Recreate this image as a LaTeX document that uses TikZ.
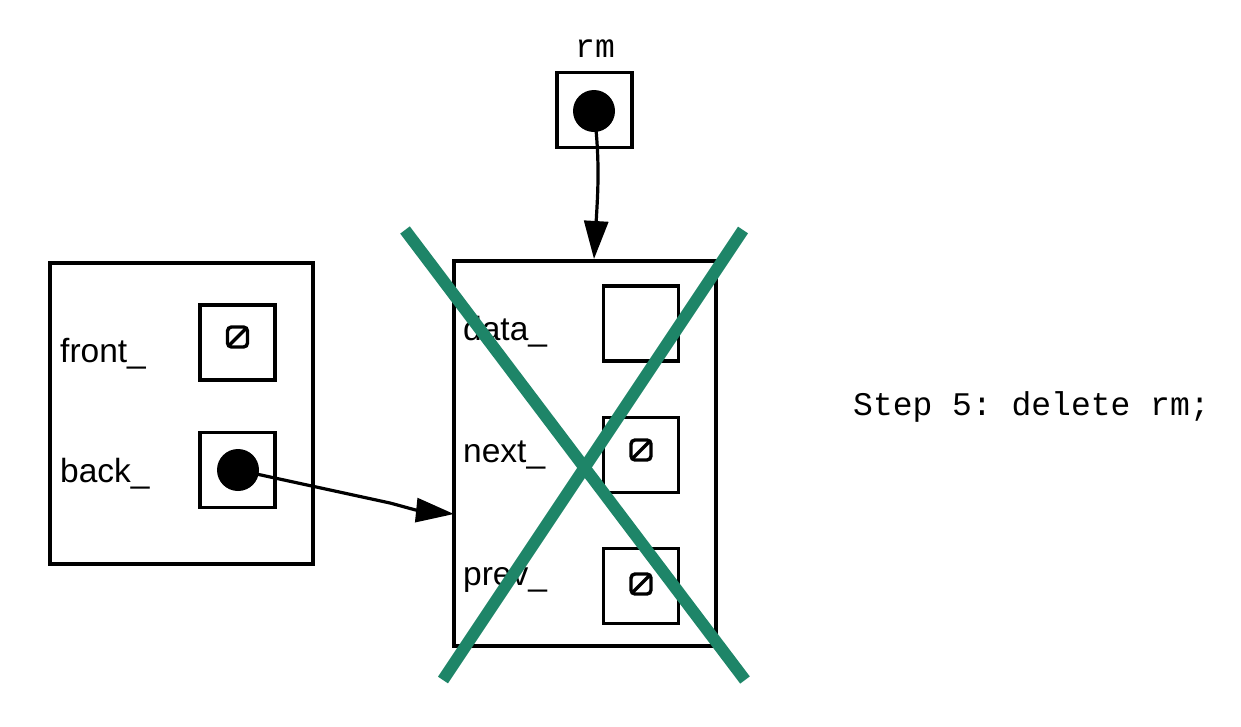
\documentclass[tikz,border=0pt]{standalone}
\usepackage{fontspec}
\setmainfont{Liberation Sans}
\setmonofont{Liberation Mono}
\usetikzlibrary{arrows.meta}
\definecolor{xgreen}{RGB}{30,133,104}
\begin{document}
\begin{tikzpicture}[x=1pt,y=-1pt,
  box/.style={draw,line width=3.2pt,minimum width=75pt,minimum height=75pt,inner sep=0pt},
  frame/.style={draw,line width=3.2pt,inner sep=0pt},
  lbl/.style={anchor=base west,inner sep=0pt,font=\fontsize{33.5}{40}\selectfont},
  code/.style={inner sep=0pt,font=\ttfamily\fontsize{33}{40}\selectfont},
  dot/.style={circle,fill=black,minimum size=42pt,inner sep=0pt},
  nullp/.style={draw,line width=3.4pt,rounded corners=4pt,minimum width=20pt,minimum height=20pt,inner sep=0pt,
    path picture={\draw[line width=3.4pt] (path picture bounding box.south west) -- (path picture bounding box.north east);}},
  ptr/.style={line width=3.2pt,-{Triangle[length=38pt,width=24pt]}},
  cross/.style={line width=12pt,xgreen}]
\useasboundingbox (0,0) rectangle (1241,726);
% left object
\node[frame,minimum width=263pt,minimum height=301pt] (list) at (181.5,413.5) {};
\node[box] (frontbox) at (237.5,342.5) {};
\node[box] (backbox) at (237.5,470) {};
\node[nullp] (frontnull) at (237.5,337) {};
\node[dot] (backdot) at (238,470) {};
\node[lbl] (frontlbl) at (60,362) {front\_};
\node[lbl] (backlbl) at (60,482) {back\_};
% middle node
\node[frame,minimum width=262pt,minimum height=385pt] (node) at (585,453.5) {};
\node[box] (databox) at (641,323.5) {};
\node[box] (nextbox) at (641,455) {};
\node[box] (prevbox) at (641,586) {};
\node[nullp] (nextnull) at (641,450) {};
\node[nullp] (prevnull) at (641,584) {};
\node[lbl] (datalbl) at (463,340) {data\_};
\node[lbl] (nextlbl) at (463,462) {next\_};
\node[lbl] (prevlbl) at (463,585) {prev\_};
% rm pointer
\node[box] (rmbox) at (594.5,110) {};
\node[dot] (rmdot) at (594,111) {};
\node[code,anchor=base] (rmlbl) at (595,57) {rm};
\coordinate (nodetop) at (594,259);
\coordinate (nodeleft) at (454,514);
\draw[ptr] (rmdot.center) .. controls (600,160) and (598,190) .. (nodetop);
\draw[ptr] (backdot.center) -- (390,503) .. controls (405,507) and (415,510) .. (nodeleft);
% cross
\coordinate (c1) at (405,230);
\coordinate (c2) at (745,680);
\coordinate (c3) at (743,230);
\coordinate (c4) at (443,680);
\draw[cross] (c1) -- (c2);
\draw[cross] (c3) -- (c4);
% caption
\node[code,anchor=base west] (step) at (853,415) {Step 5: delete rm;};
\end{tikzpicture}
\end{document}
